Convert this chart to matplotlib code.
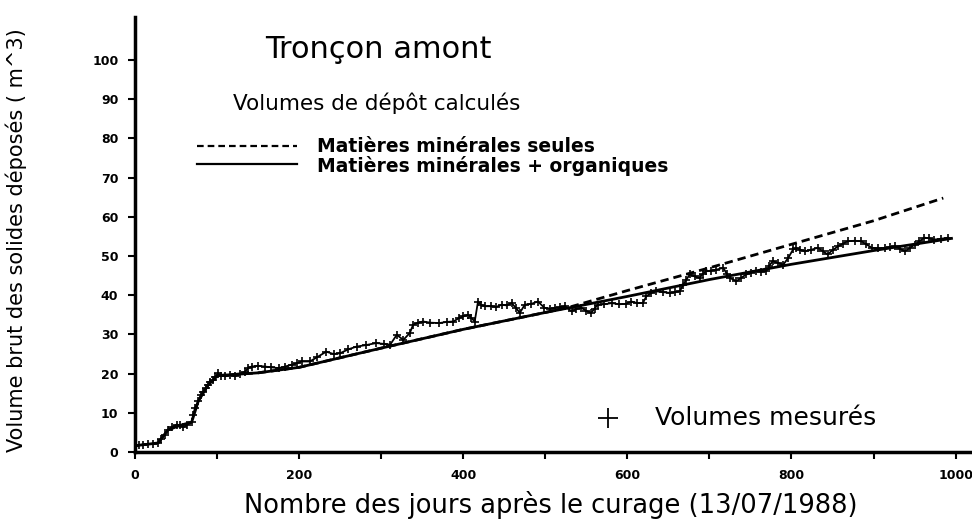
import numpy as np
import matplotlib.pyplot as plt
from matplotlib.lines import Line2D

# measured deposit volumes (day, m3)
jours_mes = [0, 5, 10, 16, 22, 28, 32, 36, 40, 45, 51, 55, 59, 63, 69, 71, 73, 77, 80, 83,
             86, 89, 92, 95, 98, 101, 105, 110, 116, 122, 128, 134, 138, 142, 150, 158, 166,
             175, 183, 191, 197, 203, 213, 222, 233, 242, 250, 260, 270, 282, 294, 303, 311,
             319, 327, 335, 339, 345, 351, 360, 371, 380, 388, 395, 400, 406, 410, 414, 418,
             422, 426, 434, 440, 447, 453, 459, 464, 469, 475, 483, 491, 499, 506, 512, 518,
             524, 532, 538, 544, 550, 556, 560, 564, 572, 581, 590, 598, 605, 612, 619, 623,
             629, 635, 643, 652, 658, 664, 668, 672, 676, 682, 688, 692, 696, 702, 708, 717,
             721, 725, 733, 739, 745, 751, 757, 763, 769, 773, 777, 784, 790, 796, 802, 806,
             811, 816, 824, 832, 838, 844, 850, 857, 863, 869, 877, 885, 891, 898, 906, 914,
             920, 926, 932, 938, 944, 950, 956, 962, 968, 974, 982, 991]
vol_mes = [1.6, 1.8, 1.9, 2.0, 2.1, 2.3, 3.2, 4.4, 5.6, 6.4, 7.0, 6.8, 6.3, 6.9, 7.6, 9.5,
           11.2, 12.9, 14.5, 15.4, 16.3, 17.1, 17.8, 18.4, 19.2, 20.1, 19.5, 19.3, 19.6, 19.3,
           20.0, 20.5, 21.4, 21.8, 22.0, 21.8, 21.6, 21.4, 21.8, 22.3, 22.6, 23.1, 23.1, 24.2,
           25.6, 25.0, 25.2, 26.2, 26.9, 27.3, 27.8, 27.6, 27.4, 29.9, 28.6, 30.4, 32.5, 33.0,
           33.3, 33.0, 32.9, 33.2, 33.3, 34.2, 34.6, 35.0, 34.2, 33.3, 38.4, 37.5, 37.2, 37.2,
           37.0, 37.6, 37.4, 38.0, 36.8, 35.5, 37.6, 37.8, 38.4, 36.8, 36.6, 36.8, 36.9, 37.2,
           35.9, 36.5, 36.8, 36.0, 35.5, 36.6, 37.6, 37.7, 38.0, 37.7, 37.8, 38.4, 38.0, 38.0,
           39.7, 40.6, 41.0, 40.8, 40.6, 40.8, 41.0, 42.7, 44.0, 45.3, 44.8, 44.4, 45.5, 46.1,
           46.3, 46.5, 47.0, 45.5, 44.4, 43.6, 44.5, 45.3, 45.8, 46.1, 46.0, 46.1, 47.5, 48.7,
           48.2, 47.8, 49.5, 51.7, 52.0, 51.6, 51.2, 51.6, 52.1, 51.3, 50.4, 51.5, 52.5, 53.2,
           53.8, 53.9, 53.8, 53.0, 52.1, 52.0, 52.1, 52.3, 52.5, 51.9, 51.2, 52.0, 52.9, 53.8,
           54.7, 54.5, 54.2, 54.4, 54.7]

# computed volumes, mineral + organic matter
jours_org = [0, 28, 40, 55, 69, 77, 89, 101, 150, 200, 300, 400, 500, 600, 700, 800, 900, 995]
vol_org = [1.6, 2.3, 5.6, 6.8, 7.6, 12.9, 17.1, 19.5, 20.2, 21.6, 26.5, 31.3, 35.6, 39.7,
           44.0, 47.9, 51.4, 54.5]

# computed volumes, mineral matter only
jours_min = [101, 150, 200, 300, 400, 500, 530, 600, 700, 800, 900, 985]
vol_min = [19.5, 20.2, 21.6, 26.5, 31.3, 35.6, 37.0, 41.2, 47.0, 53.0, 59.0, 64.8]

W, H = 972, 525
fig = plt.figure(figsize=(W / 100, H / 100), dpi=100)
ax = fig.add_axes([135 / W, 1 - 452 / H, 837 / W, 435 / H])

ax.plot(jours_org, vol_org, color='black', lw=2.0)
ax.plot(jours_min, vol_min, color='black', lw=2.0, dashes=(3, 1.8))
ax.plot(jours_mes, vol_mes, color='black', lw=1.3, marker='+', ms=6, mew=1.2)

ax.set_xlim(0, 1020)
ax.set_ylim(0, 111)
ax.set_xticks(np.arange(0, 1001, 200))
ax.set_xticks(np.arange(100, 1000, 200), minor=True)
ax.set_yticks(np.arange(0, 101, 10))
for s in ['top', 'right']:
    ax.spines[s].set_visible(False)
for s in ['left', 'bottom']:
    ax.spines[s].set_linewidth(2.5)
ax.spines['left'].set_bounds(0, 111)
ax.tick_params(which='both', direction='out', length=5, width=1.5,
               labelsize=9, pad=7)
for lab in ax.get_xticklabels() + ax.get_yticklabels():
    lab.set_fontweight('bold')


def fpos(x, y):
    return x / W, 1 - y / H


fig.text(*fpos(265, 50), 'Tronçon amont', fontsize=22, va='center', ha='left')
fig.text(*fpos(233, 103), 'Volumes de dépôt calculés', fontsize=15.5, va='center',
         ha='left')

# legend for the two computed curves
x0, x1 = fpos(197, 0)[0], fpos(297, 0)[0]
fig.add_artist(Line2D([x0, x1], [fpos(0, 146)[1]] * 2, color='black', lw=1.6,
                      dashes=(3, 1.8)))
fig.add_artist(Line2D([x0, x1], [fpos(0, 164)[1]] * 2, color='black', lw=1.6))
fig.text(*fpos(317, 146), 'Matières minérales seules', fontsize=13.5,
         fontweight='bold', va='center', ha='left')
fig.text(*fpos(317, 166), 'Matières minérales + organiques', fontsize=13.5,
         fontweight='bold', va='center', ha='left')

# legend for measured volumes
fig.add_artist(Line2D([fpos(608, 0)[0]], [fpos(0, 418)[1]], color='black', marker='+',
                      ms=14, mew=1.3, lw=0))
fig.text(*fpos(655, 418), 'Volumes mesurés', fontsize=18, va='center', ha='left')

fig.text(*fpos(16, 240), 'Volume brut des solides déposés ( m^3)', fontsize=15,
         rotation=90, va='center', ha='center')
fig.text(*fpos(551, 505), 'Nombre des jours après le curage (13/07/1988)', fontsize=18.5,
         va='center', ha='center')

fig.savefig('out.png', dpi=100)
